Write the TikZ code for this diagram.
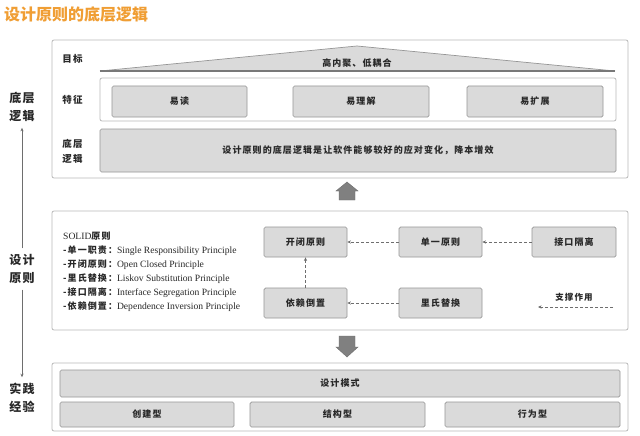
\documentclass[tikz,border=0pt]{standalone}
\usepackage{fontspec}
\setmainfont{Liberation Serif}
\newfontfamily\cjk{Noto Sans CJK SC}[LetterSpace=12]
\newfontfamily\cjktitle{Noto Sans CJK SC}
\usetikzlibrary{arrows.meta}
\definecolor{framegray}{RGB}{185,185,185}
\definecolor{boxfill}{RGB}{218,218,218}
\definecolor{boxborder}{RGB}{150,150,150}
\definecolor{txt}{RGB}{40,40,40}
\definecolor{arrgray}{RGB}{110,110,110}
\definecolor{blockfill}{RGB}{128,128,128}
\definecolor{titleorange}{RGB}{240,158,52}
\begin{document}
\begin{tikzpicture}[x=1pt,y=-1pt,
  frame/.style={draw=framegray, line width=0.8pt, rounded corners=2pt, fill=white, inner sep=0pt},
  gbox/.style={draw=boxborder, line width=0.7pt, fill=boxfill, rounded corners=1.5pt, inner sep=0pt,
    font=\cjk\bfseries\fontsize{9}{11}\selectfont, text=txt},
  lbl/.style={font=\cjk\bfseries\fontsize{9.5}{15}\selectfont, text=txt, align=center, inner sep=0pt},
  side/.style={font=\cjk\bfseries\fontsize{12}{18}\selectfont, text=txt, align=center, inner sep=2pt, outer sep=4pt},
  darr/.style={densely dashed, draw=arrgray, line width=0.5pt, -{Stealth[length=3.6pt,width=3.2pt]}},
  sarr/.style={draw=arrgray, line width=0.6pt, -{Stealth[length=3.5pt,width=3pt]}},
  blockarr/.style={fill=blockfill, draw=blockfill!85!black, line width=0.4pt}]
\useasboundingbox (0,0) rectangle (640,436);
\fill[white] (0,0) rectangle (640,436);

% title
\node[anchor=west, inner sep=0pt, text=titleorange, font=\cjktitle\bfseries\fontsize{16}{18}\selectfont] (title) at (4,14) {设计原则的底层逻辑};

% side labels
\node[side] (s1) at (22,107) {底层\\逻辑};
\node[side] (s2) at (22,269) {设计\\原则};
\node[side] (s3) at (22,398) {实践\\经验};
\draw[sarr] (s2.north) -- (s1.south);
\draw[sarr] (s2.south) -- (s3.north);

% ===== top frame =====
\node[frame, minimum width=576pt, minimum height=138pt] (topf) at (340,109) {};
\node[lbl] (mb) at (72.5,59) {目标};
\node[lbl] (tz) at (72.5,100) {特征};
\node[lbl] (dc) at (72.5,151) {底层\\逻辑};
% roof
\coordinate (rl) at (100,71);
\coordinate (rt) at (357,46);
\coordinate (rr) at (615,71);
\fill[boxfill] (rl) -- (rt) -- (rr) -- cycle;
\draw[boxborder, line width=0.7pt] (rl) -- (rt) -- (rr);
\draw[boxborder!80!black, line width=1.6pt] (rl) -- (rr);
\node[font=\cjk\bfseries\fontsize{9}{11}\selectfont, text=txt, inner sep=0pt] (goal) at (357,63) {高内聚、低耦合};
% features
\node[frame, rounded corners=2pt, minimum width=516pt, minimum height=43pt] (feat) at (358,99.5) {};
\node[gbox, minimum width=135pt, minimum height=31pt] (f1) at (179.5,101.5) {易读};
\node[gbox, minimum width=136pt, minimum height=31pt] (f2) at (361,101.5) {易理解};
\node[gbox, minimum width=136pt, minimum height=31pt] (f3) at (535,101.5) {易扩展};
% base
\node[gbox, minimum width=516pt, minimum height=43pt] (base) at (358,150.5) {设计原则的底层逻辑是让软件能够较好的应对变化，降本增效};

% up block arrow
\draw[blockarr] (339,200) -- (339,191) -- (336,191) -- (347,182) -- (358,191) -- (355,191) -- (355,200) -- cycle;

% ===== middle frame =====
\node[frame, minimum width=576pt, minimum height=119pt] (midf) at (340,270.5) {};
\node[anchor=north west, align=left, inner sep=0pt, text=txt, font=\fontsize{9.6}{14}\selectfont] (solid) at (63,231.5)
  {SOLID{\cjk\bfseries\fontsize{9}{14}\selectfont 原则}\\
   {\cjk\bfseries\fontsize{9}{14}\selectfont -单一职责：}Single Responsibility Principle\\
   {\cjk\bfseries\fontsize{9}{14}\selectfont -开闭原则：}Open Closed Principle\\
   {\cjk\bfseries\fontsize{9}{14}\selectfont -里氏替换：}Liskov Substitution Principle\\
   {\cjk\bfseries\fontsize{9}{14}\selectfont -接口隔离：}Interface Segregation Principle\\
   {\cjk\bfseries\fontsize{9}{14}\selectfont -依赖倒置：}Dependence Inversion Principle};
\node[gbox, minimum width=83pt, minimum height=30pt] (kb) at (305.5,242) {开闭原则};
\node[gbox, minimum width=83pt, minimum height=30pt] (dy) at (440.5,242) {单一原则};
\node[gbox, minimum width=84pt, minimum height=30pt] (jk) at (574,242) {接口隔离};
\node[gbox, minimum width=83pt, minimum height=30pt] (yl) at (305.5,303) {依赖倒置};
\node[gbox, minimum width=83pt, minimum height=30pt] (ls) at (440.5,303) {里氏替换};
\draw[darr] (dy.west) -- (kb.east);
\draw[darr] (jk.west) -- (dy.east);
\draw[darr] (ls.west) -- (yl.east);
\draw[darr] (yl.north) -- (kb.south);
\node[font=\cjk\bfseries\fontsize{8.5}{10}\selectfont, text=txt, inner sep=0pt] (zc) at (574,297) {支撑作用};
\coordinate (lg1) at (613,307);
\coordinate (lg2) at (538,307);
\draw[darr] (lg1) -- (lg2);

% down block arrow
\draw[blockarr] (339,336) -- (339,347) -- (336,347) -- (347,357) -- (358,347) -- (355,347) -- (355,336) -- cycle;

% ===== bottom frame =====
\node[frame, minimum width=576pt, minimum height=68pt] (botf) at (340,397) {};
\node[gbox, minimum width=560pt, minimum height=27pt] (sjms) at (340,383.5) {设计模式};
\node[gbox, minimum width=174pt, minimum height=25pt] (cj) at (147,414.5) {创建型};
\node[gbox, minimum width=175pt, minimum height=25pt] (jg) at (337.5,414.5) {结构型};
\node[gbox, minimum width=175pt, minimum height=25pt] (xw) at (532.5,414.5) {行为型};
\end{tikzpicture}
\end{document}
